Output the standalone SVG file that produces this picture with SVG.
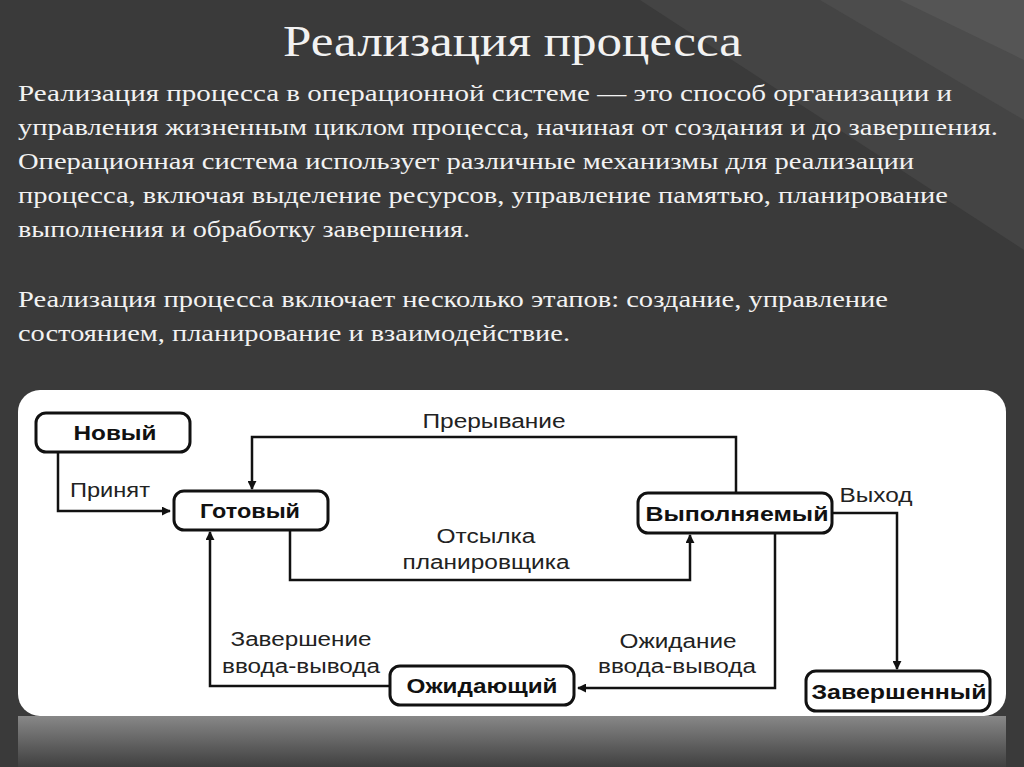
<svg xmlns="http://www.w3.org/2000/svg" width="1024" height="767" viewBox="0 0 1024 767">
<style>
.t{font-family:"Liberation Serif",serif;fill:#f2f2f2;font-size:24px}
.n rect{fill:#fff;stroke:#111;stroke-width:3}
.n text{font-family:"Liberation Sans",Arial,sans-serif;font-weight:bold;font-size:21px;fill:#111;text-anchor:middle}
.l{font-family:"Liberation Sans",Arial,sans-serif;font-size:20px;fill:#222;text-anchor:middle}
#c path{fill:none;stroke:#111;stroke-width:2.5}
</style>
<defs>
<marker id="a" viewBox="0 0 10 10" refX="9" refY="5" markerWidth="9" markerHeight="9" orient="auto-start-reverse" markerUnits="userSpaceOnUse"><path d="M0,0L10,5L0,10z" fill="#111"/></marker>
<linearGradient id="rf" x1="0" y1="0" x2="0" y2="1"><stop offset="0" stop-color="#bbb"/><stop offset="1" stop-color="#444"/></linearGradient>
</defs>
<rect width="1024" height="767" fill="#3a3a3a"/>
<path d="M640,0L1024,0L1024,250Z" fill="#444"/>
<path d="M820,0L1024,0L1024,120Z" fill="#4c4c4c"/>
<path d="M900,0L1024,0L1024,60Z" fill="#555"/>
<text x="283" y="56" class="t" style="font-size:44px" textLength="459" lengthAdjust="spacingAndGlyphs">Реализация процесса</text>
<g class="t">
<text x="18" y="101" textLength="934" lengthAdjust="spacingAndGlyphs">Реализация процесса в операционной системе — это способ организации и</text>
<text x="18" y="135" textLength="980" lengthAdjust="spacingAndGlyphs">управления жизненным циклом процесса, начиная от создания и до завершения.</text>
<text x="18" y="169" textLength="896" lengthAdjust="spacingAndGlyphs">Операционная система использует различные механизмы для реализации</text>
<text x="18" y="203" textLength="930" lengthAdjust="spacingAndGlyphs">процесса, включая выделение ресурсов, управление памятью, планирование</text>
<text x="18" y="237" textLength="452" lengthAdjust="spacingAndGlyphs">выполнения и обработку завершения.</text>
<text x="18" y="307" textLength="870" lengthAdjust="spacingAndGlyphs">Реализация процесса включает несколько этапов: создание, управление</text>
<text x="18" y="341" textLength="552" lengthAdjust="spacingAndGlyphs">состоянием, планирование и взаимодействие.</text>
</g>
<rect x="18" y="716" width="988" height="51" fill="url(#rf)" opacity="0.6"/>
<rect x="18" y="390" width="988" height="326" rx="22" fill="#fff"/>
<g id="c">
<path d="M58,452V511H170" marker-end="url(#a)"/>
<path d="M736,493V437H252V489" marker-end="url(#a)"/>
<path d="M290,530V580H690V535" marker-end="url(#a)"/>
<path d="M832,513H897V669" marker-end="url(#a)"/>
<path d="M775,533V688H578" marker-end="url(#a)"/>
<path d="M390,686H210V532" marker-end="url(#a)"/>
<text class="l" x="110" y="497" textLength="80" lengthAdjust="spacingAndGlyphs">Принят</text>
<text class="l" x="494" y="428" textLength="143" lengthAdjust="spacingAndGlyphs">Прерывание</text>
<text class="l" x="486" y="543" textLength="99" lengthAdjust="spacingAndGlyphs">Отсылка</text>
<text class="l" x="486" y="569" textLength="167" lengthAdjust="spacingAndGlyphs">планировщика</text>
<text class="l" x="876" y="502" textLength="73" lengthAdjust="spacingAndGlyphs">Выход</text>
<text class="l" x="678" y="648" textLength="117" lengthAdjust="spacingAndGlyphs">Ожидание</text>
<text class="l" x="677" y="673" textLength="158" lengthAdjust="spacingAndGlyphs">ввода-вывода</text>
<text class="l" x="301" y="646" textLength="141" lengthAdjust="spacingAndGlyphs">Завершение</text>
<text class="l" x="301" y="673" textLength="158" lengthAdjust="spacingAndGlyphs">ввода-вывода</text>
</g>
<g id="new" class="n"><rect x="36" y="413" width="154" height="39" rx="10"/><text x="115" y="440" textLength="83" lengthAdjust="spacingAndGlyphs">Новый</text></g>
<g id="ready" class="n"><rect x="174" y="491" width="154" height="39" rx="10"/><text x="250" y="518" textLength="100" lengthAdjust="spacingAndGlyphs">Готовый</text></g>
<g id="running" class="n"><rect x="638" y="493" width="194" height="40" rx="10"/><text x="737" y="521" textLength="183" lengthAdjust="spacingAndGlyphs">Выполняемый</text></g>
<g id="waiting" class="n"><rect x="390" y="666" width="184" height="39" rx="10"/><text x="482" y="693" textLength="151" lengthAdjust="spacingAndGlyphs">Ожидающий</text></g>
<g id="done" class="n"><rect x="806" y="671" width="184" height="40" rx="10"/><text x="899" y="699" textLength="175" lengthAdjust="spacingAndGlyphs">Завершенный</text></g>
</svg>
